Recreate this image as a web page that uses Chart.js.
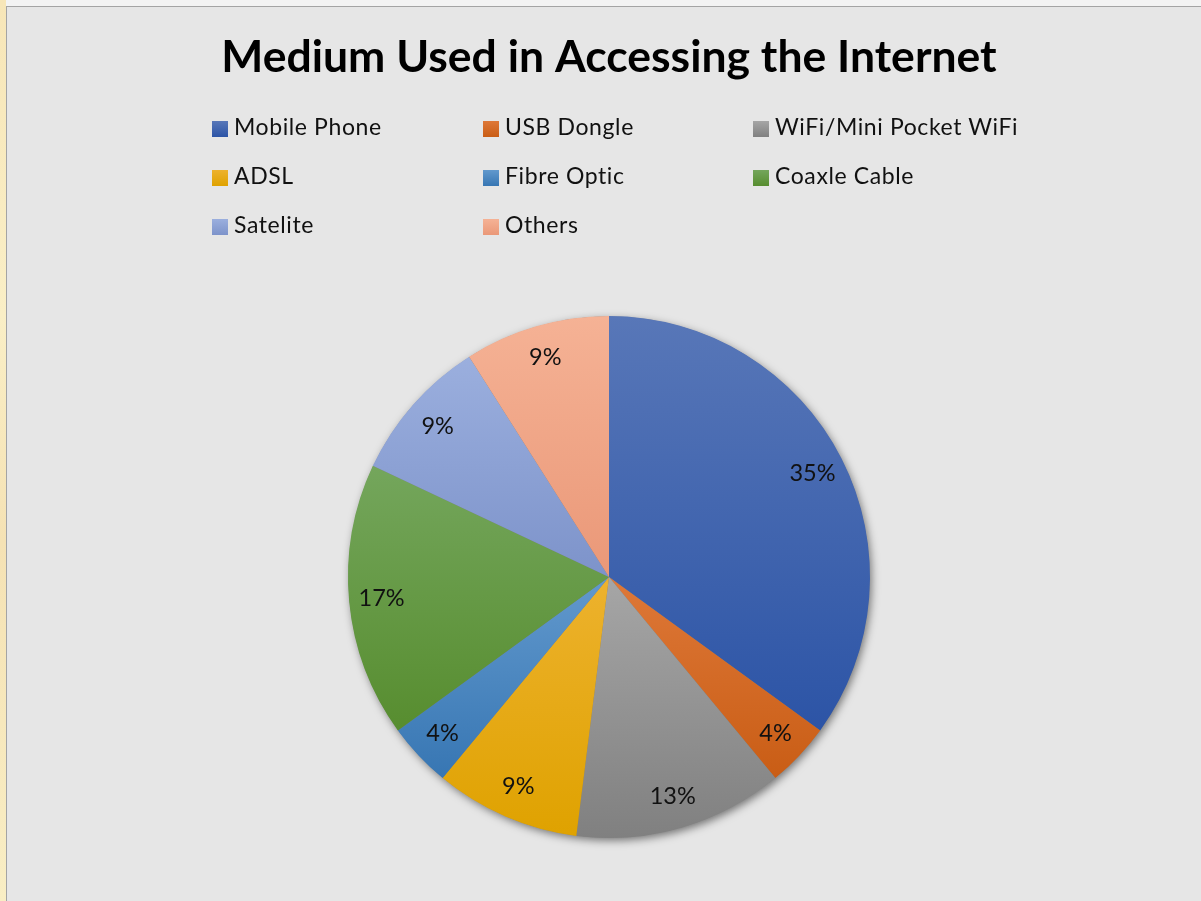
<!DOCTYPE html>
<html>
<head>
<meta charset="utf-8">
<title>Medium Used in Accessing the Internet</title>
<script src="https://cdn.jsdelivr.net/npm/chart.js@4/dist/chart.umd.min.js"></script>
<style>
    html, body {
        margin: 0;
        padding: 0;
        width: 1201px;
        height: 901px;
        overflow: hidden;
        background: #f3f3f3;
        font-family: Lato, "Open Sans", sans-serif;
    }
    .edge {
        position: absolute;
        left: 0;
        top: 0;
        width: 6px;
        height: 901px;
        background: linear-gradient(180deg, #f7e6b8 0%, #faefc6 35%, #f5e2b4 60%, #f9eec4 100%);
    }
    .frame {
        position: absolute;
        left: 6px;
        top: 6px;
        width: 1195px;
        height: 895px;
        box-sizing: border-box;
        background: #e6e6e6;
        border-top: 1px solid #a4a4a4;
        border-left: 1px solid #a4a4a4;
    }
    #chart {
        position: absolute;
        left: 0;
        top: 0;
    }
    .legend-item {
        position: absolute;
        height: 16px;
        white-space: nowrap;
    }
    .legend-item .box {
        position: absolute;
        left: 0;
        top: 0;
        width: 16px;
        height: 16px;
    }
    .legend-item .label {
        position: absolute;
        left: 22px;
        top: -6px;
        font-size: 23px;
        line-height: 23px;
        letter-spacing: 0.6px;
        color: #111;
    }
</style>
</head>
<body>
<div class="edge"></div>
<div class="frame">
    <canvas id="chart" width="1194" height="894"></canvas>
    <div id="legend"></div>
</div>

<script>
// Survey shares, in percent
const categories = ['Mobile Phone', 'USB Dongle', 'WiFi/Mini Pocket WiFi', 'ADSL',
    'Fibre Optic', 'Coaxle Cable', 'Satelite', 'Others'];
const shares = [35, 4, 13, 9, 4, 17, 9, 9];

// Each slice fades from a lighter top to a darker bottom
const topColors = ['#5877b8', '#de7838', '#a6a6a6', '#edb22e', '#6299cd', '#74a65c', '#9bafde', '#f5b295'];
const bottomColors = ['#2c54a6', '#c95d15', '#808080', '#dfa200', '#3776b3', '#578d2f', '#7d93ca', '#ea9878'];

// Legend grid (three columns, rows filled left to right)
const legendCols = [205, 476, 746];
const legendRows = [114, 163, 212];

function buildLegend() {
    const container = document.getElementById('legend');
    categories.forEach((name, i) => {
        const item = document.createElement('div');
        item.className = 'legend-item';
        item.style.left = legendCols[i % 3] + 'px';
        item.style.top = legendRows[Math.floor(i / 3)] + 'px';
        item.innerHTML = `
            <span class="box" style="background: linear-gradient(180deg, ${topColors[i]}, ${bottomColors[i]})"></span>
            <span class="label">${name}</span>
        `;
        container.appendChild(item);
    });
}

// Vertical gradient spanning the slice's own height
function sliceGradient(context) {
    const i = context.dataIndex;
    const chart = context.chart;
    if (i === undefined || !chart.chartArea) return topColors[i || 0];
    const area = chart.chartArea;
    const radius = chart.getDatasetMeta(0).controller.outerRadius || 0;
    const cy = (area.top + area.bottom) / 2;
    const total = shares.reduce((a, b) => a + b, 0);
    const before = shares.slice(0, i).reduce((a, b) => a + b, 0);
    const start = -Math.PI / 2 + 2 * Math.PI * before / total;
    const end = start + 2 * Math.PI * shares[i] / total;
    const within = a => (a >= start && a <= end) || (a + 2 * Math.PI >= start && a + 2 * Math.PI <= end);
    const ys = [cy, cy + radius * Math.sin(start), cy + radius * Math.sin(end)];
    if (within(Math.PI / 2)) ys.push(cy + radius);
    if (within(-Math.PI / 2)) ys.push(cy - radius);
    const minY = Math.min(...ys);
    const maxY = Math.max(...ys);
    const grad = chart.ctx.createLinearGradient(0, minY, 0, Math.max(maxY, minY + 1));
    grad.addColorStop(0, topColors[i]);
    grad.addColorStop(1, bottomColors[i]);
    return grad;
}

// Soft drop shadow under the whole pie
const pieShadow = {
    id: 'pieShadow',
    beforeDatasetsDraw(chart) {
        const arc = chart.getDatasetMeta(0).data[0];
        if (!arc) return;
        const { x, y, outerRadius } = arc.getProps(['x', 'y', 'outerRadius'], true);
        const ctx = chart.ctx;
        ctx.save();
        ctx.shadowColor = 'rgba(0, 0, 0, 0.5)';
        ctx.shadowBlur = 9;
        ctx.shadowOffsetX = 2;
        ctx.shadowOffsetY = 3;
        ctx.fillStyle = '#777';
        ctx.beginPath();
        ctx.arc(x, y, outerRadius - 0.5, 0, Math.PI * 2);
        ctx.fill();
        ctx.restore();
    }
};

// Percentage labels inside each slice
const sliceLabels = {
    id: 'sliceLabels',
    afterDatasetsDraw(chart) {
        const ctx = chart.ctx;
        const total = shares.reduce((a, b) => a + b, 0);
        ctx.save();
        ctx.font = '23.5px Lato, "Open Sans", sans-serif';
        ctx.fillStyle = '#111';
        ctx.textAlign = 'center';
        ctx.textBaseline = 'middle';
        chart.getDatasetMeta(0).data.forEach((arc, i) => {
            const p = arc.getProps(['x', 'y', 'startAngle', 'endAngle', 'outerRadius'], true);
            const mid = (p.startAngle + p.endAngle) / 2;
            const r = p.outerRadius * 0.875;
            const text = Math.round(shares[i] / total * 100) + '%';
            ctx.fillText(text, p.x + r * Math.cos(mid), p.y + r * Math.sin(mid));
        });
        ctx.restore();
    }
};

document.addEventListener('DOMContentLoaded', () => {
    buildLegend();

    const ctx = document.getElementById('chart').getContext('2d');
    new Chart(ctx, {
        type: 'pie',
        data: {
            labels: categories,
            datasets: [{
                data: shares,
                backgroundColor: sliceGradient,
                borderWidth: 0
            }]
        },
        options: {
            responsive: false,
            animation: false,
            layout: {
                padding: { top: 0, bottom: 63, left: 10, right: 0 }
            },
            plugins: {
                legend: { display: false },
                tooltip: { enabled: false },
                title: {
                    display: true,
                    text: 'Medium Used in Accessing the Internet',
                    color: '#000',
                    font: { family: 'Lato, "Open Sans", sans-serif', size: 44.5, weight: 'bold', lineHeight: 1.2 },
                    padding: { top: 23.5, bottom: 232.1 }
                }
            }
        },
        plugins: [pieShadow, sliceLabels]
    });
});
</script>
</body>
</html>
